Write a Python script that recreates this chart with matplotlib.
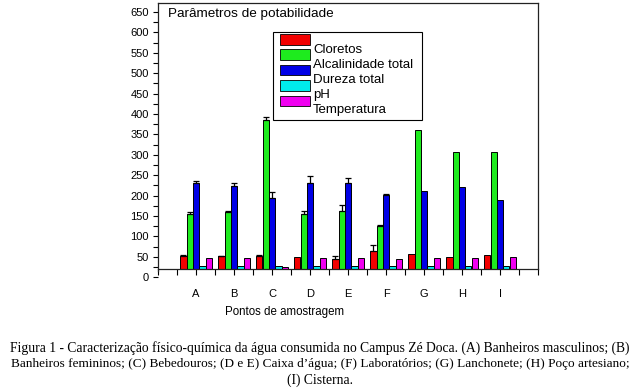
import matplotlib

matplotlib.use("Agg")
import matplotlib.pyplot as plt
import numpy as np
from matplotlib.patches import Rectangle
from matplotlib.ticker import MultipleLocator, FixedLocator

# --- data -----------------------------------------------------------------
points = ["A", "B", "C", "D", "E", "F", "G", "H", "I"]
series = ["Cloretos", "Alcalinidade total", "Dureza total", "pH", "Temperatura"]
colors = ["#F20000", "#1EEB1E", "#0000E6", "#00ECEC", "#F000F0"]

cloretos = [52, 51, 53, 50, 45, 64, 57, 50, 55]
alcalinidade = [156, 159, 386, 155, 162, 125, 361, 308, 308]
dureza = [230, 224, 195, 232, 230, 201, 211, 220, 189]
ph = [27, 27, 27, 27, 28, 28, 28, 28, 28]
temperatura = [48, 47, 26, 47, 48, 44, 47, 48, 50]

err_cloretos = [2, 2, 2, 0, 6, 14, 0, 0, 0]
err_alcalinidade = [4, 4, 7, 7, 14, 4, 0, 0, 0]
err_dureza = [6, 6, 14, 15, 14, 2, 0, 0, 0]
err_ph = [0] * 9
err_temperatura = [0] * 9

values = [cloretos, alcalinidade, dureza, ph, temperatura]
errors = [err_cloretos, err_alcalinidade, err_dureza, err_ph, err_temperatura]

YCROSS = 20   # the x axis crosses the y axis here, bars start from it
YMAX = 672

caption = [
    "Figura 1 - Caracterização físico-química da água consumida no Campus Zé Doca. (A) Banheiros masculinos; (B)",
    "Banheiros femininos; (C) Bebedouros; (D e E) Caixa d’água; (F) Laboratórios; (G) Lanchonete; (H) Poço artesiano;",
    "(I) Cisterna.",
]
caption_sizes = [9.8, 9.5, 9.8]

plt.rcParams.update({
    "font.family": ["Liberation Sans", "DejaVu Sans"],
    "figure.facecolor": "white",
    "axes.facecolor": "white",
})

W, H = 640, 388


def fx(x):
    return x / W


def fy(y):
    return 1 - y / H


fig = plt.figure(figsize=(6.4, 3.88), dpi=100)
ax = fig.add_axes([fx(158), fy(277.3), fx(538) - fx(158), fy(3) - fy(277.3)])

x = np.arange(1, len(points) + 1)
width = 1 / 6
for i, (vals, errs, c) in enumerate(zip(values, errors, colors)):
    vals = np.array(vals, dtype=float)
    errs = np.array(errs, dtype=float)
    pos = x + (i - 2) * width
    ax.bar(pos, vals - YCROSS, bottom=YCROSS, width=width, color=c,
           edgecolor="black", linewidth=0.7, zorder=2, label=series[i])
    mask = errs > 0
    if mask.any():
        ax.errorbar(pos[mask], vals[mask],
                    yerr=[np.zeros(mask.sum()), errs[mask]],
                    fmt="none", ecolor="black", elinewidth=0.9,
                    capsize=2.2, capthick=0.9, zorder=3)

ax.set_xlim(0, 10)
ax.set_ylim(0, YMAX)

ax.spines["bottom"].set_position(("data", YCROSS))
ax.spines["left"].set_bounds(YCROSS - 4, YMAX)
ax.spines["right"].set_bounds(YCROSS, YMAX)
for s in ax.spines.values():
    s.set_linewidth(0.9)
    s.set_color("#222222")

ax.set_xticks(x)
ax.set_xticklabels(points)
ax.xaxis.set_minor_locator(FixedLocator(np.arange(0, 10.01, 0.5)))
ax.yaxis.set_major_locator(MultipleLocator(50))
ax.yaxis.set_minor_locator(MultipleLocator(25))
ax.set_yticks(np.arange(0, 651, 50))

ax.tick_params(axis="x", which="both", direction="out", length=4,
               width=0.8, labelsize=8, pad=10.5)
ax.tick_params(axis="y", which="both", direction="out", length=3.5,
               width=0.8, labelsize=8, pad=3)

ax.set_xlabel("Pontos de amostragem", fontsize=8.3)
ax.xaxis.set_label_coords((285 - 158) / 380, (277.3 - 306) / 274.3)

ax.text((168 - 158) / 380, (277.3 - 14) / 274.3, "Parâmetros de potabilidade",
        fontsize=9.7, ha="left", va="center", transform=ax.transAxes)

# legend box as in the reference (labels sit a bit below their swatches)
fig.add_artist(Rectangle((fx(273), fy(120)), fx(422) - fx(273), fy(32) - fy(120),
                         transform=fig.transFigure, facecolor="white",
                         edgecolor="black", linewidth=0.8))
for i, (name, c) in enumerate(zip(series, colors)):
    top = 34 + 15.4 * i
    fig.add_artist(Rectangle((fx(280), fy(top + 10.5)), fx(30), fy(0) - fy(10.5),
                             transform=fig.transFigure, facecolor=c,
                             edgecolor="black", linewidth=0.6))
    fig.text(fx(313), fy(50 + 15 * i), name, fontsize=9.5,
             ha="left", va="center")

# caption under the chart
for line, size, ypix in zip(caption, caption_sizes, [348, 364, 380]):
    fig.text(0.5, fy(ypix), line, fontsize=size, ha="center", va="center",
             family=["Liberation Serif", "DejaVu Serif"])

fig.savefig("out.png", dpi=100)
